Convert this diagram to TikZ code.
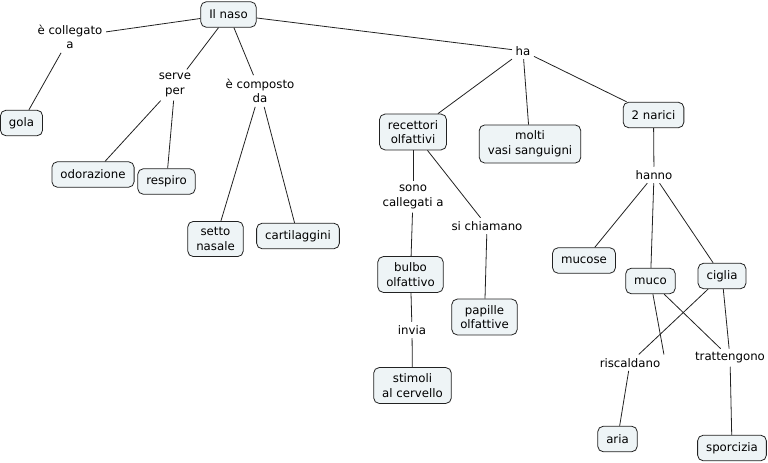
\documentclass[tikz,border=0pt]{standalone}
\usepackage{fontspec}
\setmainfont{DejaVu Sans}
\definecolor{boxfill}{HTML}{EEF4F6}
\definecolor{edgecol}{HTML}{222222}
\begin{document}
\begin{tikzpicture}[x=1bp,y=-1bp,
  concept/.style={draw=edgecol, fill=boxfill, rounded corners=5.5bp, align=center,
    inner xsep=8.5bp, inner ysep=6bp, minimum height=25.5bp, line width=0.8bp,
    font=\fontsize{11.8}{14.8}\selectfont},
  phrase/.style={align=center, inner sep=3.5bp, font=\fontsize{11.8}{14.8}\selectfont},
  link/.style={draw=edgecol, line width=0.8bp}]
\useasboundingbox (0,0) rectangle (768,463);
% concepts
\node[concept] (naso) at (228.5,14.5) {Il naso};
\node[concept] (gola) at (21.5,123) {gola};
\node[concept] (odor) at (93,174.5) {odorazione};
\node[concept] (resp) at (166.5,181.5) {respiro};
\node[concept] (setto) at (215.5,239) {setto\\nasale};
\node[concept] (cart) at (298,236) {cartilaggini};
\node[concept] (rec) at (413,132) {recettori\\olfattivi};
\node[concept] (molti) at (530,144) {molti\\vasi sanguigni};
\node[concept] (narici) at (653.5,115) {2 narici};
\node[concept] (bulbo) at (410.5,274.5) {bulbo\\olfattivo};
\node[concept] (papille) at (484.5,317) {papille\\olfattive};
\node[concept] (stim) at (412.5,385.5) {stimoli\\al cervello};
\node[concept] (mucose) at (584,260.5) {mucose};
\node[concept] (muco) at (650.5,281) {muco};
\node[concept] (ciglia) at (722,276) {ciglia};
\node[concept] (aria) at (617.5,439) {aria};
\node[concept] (sporc) at (732,448) {sporcizia};
% linking phrases
\node[phrase] (coll) at (70,37) {è collegato\\a};
\node[phrase] (serve) at (175,85) {serve\\per};
\node[phrase] (comp) at (260,91) {è composto\\da};
\node[phrase] (ha) at (523,51) {ha};
\node[phrase] (hanno) at (654,175) {hanno};
\node[phrase] (sono) at (413,197) {sono\\callegati a};
\node[phrase] (chiam) at (487,226) {si chiamano};
\node[phrase] (invia) at (412,330) {invia};
\node[phrase] (risc) at (630,362.7) {riscaldano};
\node[phrase] (tratt) at (730,357.7) {trattengono};
% connectors
\draw[link] (naso) -- (coll);
\draw[link] (coll) -- (gola);
\draw[link] (naso) -- (serve);
\draw[link] (serve) -- (odor);
\draw[link] (serve) -- (resp);
\draw[link] (naso) -- (comp);
\draw[link] (comp) -- (setto);
\draw[link] (comp) -- (cart);
\draw[link] (naso) -- (ha);
\draw[link] (ha) -- (rec);
\draw[link] (ha) -- (molti);
\draw[link] (ha) -- (narici);
\draw[link] (rec) -- (sono);
\draw[link] (sono) -- (bulbo);
\draw[link] (bulbo) -- (invia);
\draw[link] (invia) -- (stim);
\draw[link] (rec) -- (chiam);
\draw[link] (chiam) -- (papille);
\draw[link] (narici) -- (hanno);
\draw[link] (hanno) -- (mucose);
\draw[link] (hanno) -- (muco);
\draw[link] (hanno) -- (ciglia);
\draw[link] (muco) -- (risc.north east);
\draw[link] (ciglia) -- (risc);
\draw[link] (muco) -- (tratt);
\draw[link] (ciglia) -- (tratt);
\draw[link] (risc) -- (aria);
\draw[link] (tratt) -- (sporc);
\end{tikzpicture}
\end{document}
